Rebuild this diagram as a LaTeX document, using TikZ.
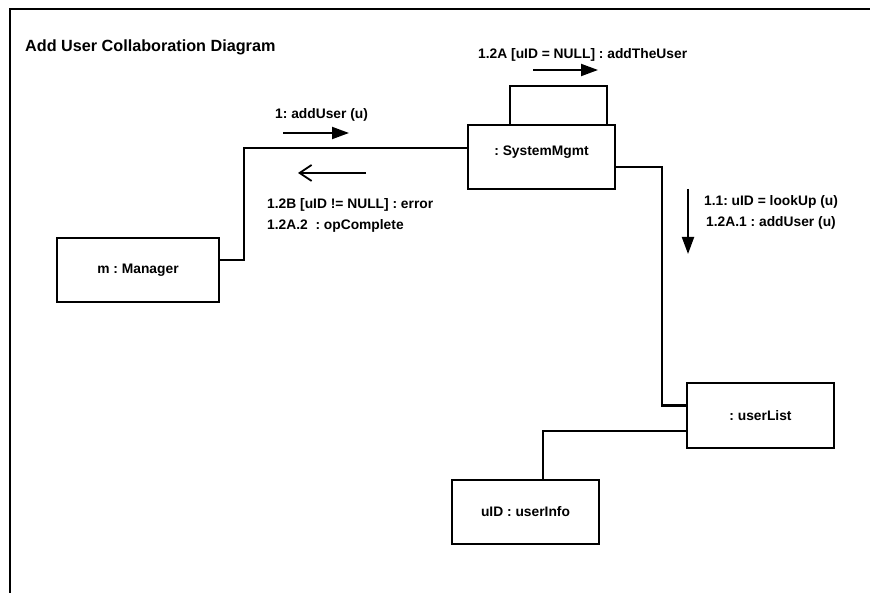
\documentclass[tikz,border=0pt]{standalone}
\usepackage{fontspec}
\setmainfont{Liberation Sans}
\usetikzlibrary{arrows.meta}
\frenchspacing

\begin{document}
\begin{tikzpicture}[x=1pt, y=-1pt,
	obj/.style={draw, line width=2.2pt, minimum width=147pt, minimum height=64pt, inner sep=0pt, font=\fontsize{13.8}{16}\selectfont\bfseries},
	lbl/.style={inner sep=0pt, anchor=west, font=\fontsize{13.8}{21}\selectfont\bfseries},
	link/.style={line width=2.2pt},
	msg/.style={line width=2pt, -{Triangle[length=17pt, width=12pt]}},
	ret/.style={line width=1.8pt, -{Straight Barb[length=12pt, width=16pt]}}]
			\useasboundingbox (0,0) rectangle (870,593);
			\draw[line width=2.2pt] (10,593) -- (10,9) -- (870,9);
			\node[inner sep=0pt, anchor=west, font=\fontsize{16.2}{18}\selectfont\bfseries](title) at (25,47){Add User Collaboration Diagram};
			% objects
			\node[obj, text depth=12pt, text height=9.5pt](sysmgmt) at (541.5,157){: SystemMgmt};
			\node[obj, minimum width=162pt](manager) at (138,270){m : Manager};
			\node[obj, minimum height=65pt](userlist) at (760.5,415.5){: userList};
			\node[obj](userinfo) at (525.5,512){uID : userInfo};
			% links
			\draw[link] ([yshift=10pt]manager.east) -- ++(24,0) |- ([yshift=9pt]sysmgmt.west);
			\draw[link] ([xshift=-31.5pt]sysmgmt.north) -- ++(0,-38) -| ([xshift=65.5pt]sysmgmt.north);
			\draw[link] ([yshift=-10pt]sysmgmt.east) -| ([xshift=-24pt, yshift=10pt]userlist.west) -- ([yshift=10pt]userlist.west);
			\draw[link] ([yshift=-15.5pt]userlist.west) -| ([xshift=17.5pt]userinfo.north);
			% messages
			\coordinate (m1a) at (283,133);
			\coordinate (m1b) at (349,133);
			\coordinate (m2a) at (533,70);
			\coordinate (m2b) at (598,70);
			\coordinate (m3a) at (366,173);
			\coordinate (m3b) at (298,173);
			\coordinate (m4a) at (688,189);
			\coordinate (m4b) at (688,254);
			\draw[msg] (m1a) -- (m1b);
			\draw[msg] (m2a) -- (m2b);
			\draw[ret] (m3a) -- (m3b);
			\draw[msg] (m4a) -- (m4b);
			\node[lbl](adduser) at (275,115){1: addUser (u)};
			\node[lbl](addtheuser) at (478,55){1.2A [uID = NULL] : addTheUser};
			\node[lbl, align=left](error) at (267,215){1.2B [uID != NULL] : error\\1.2A.2\ \ : opComplete};
			\node[lbl, anchor=center, align=center](lookup) at (771,212){1.1: uID = lookUp (u)\\1.2A.1 : addUser (u)};
			\end{tikzpicture}
\end{document}
